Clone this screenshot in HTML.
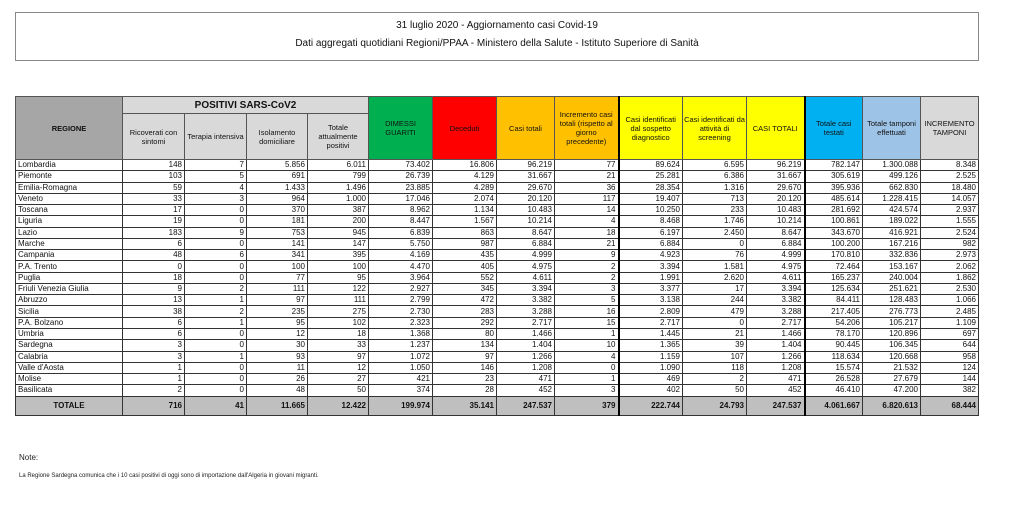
<!DOCTYPE html>
<html><head><meta charset="utf-8"><style>
body{margin:0;width:1024px;height:513px;background:#fff;font-family:"Liberation Sans",sans-serif;position:relative;overflow:hidden}
.tb{position:absolute;left:15px;top:12px;width:962px;height:47px;border:1px solid #888;text-align:center;font-size:10px;color:#111}
table{position:absolute;left:15px;top:96px;border-collapse:collapse;table-layout:fixed;font-size:8px;color:#111}
td{border:1px solid #333;padding:0 2px;height:10.27px;line-height:10px;text-align:right;white-space:nowrap;overflow:hidden}
td.l{text-align:left}
th{border:1px solid #555;font-weight:normal;font-size:7.5px;line-height:9px;text-align:center;padding:0}
.g{background:#a6a6a6}.lg{background:#d9d9d9}.gr{background:#00b050}.rd{background:#ff0000}.or{background:#ffc000}.ye{background:#ffff00}.bl{background:#00b0f0}.lb{background:#9dc3e6}
.tk{border-left:2px solid #000}
tr.tot td{height:18px;font-weight:bold;background:#bfbfbf}
</style></head><body>
<div class="tb"><div style="position:absolute;top:7px;width:100%">31 luglio 2020 - Aggiornamento casi Covid-19</div><div style="position:absolute;top:25px;width:100%">Dati aggregati quotidiani Regioni/PPAA - Ministero della Salute - Istituto Superiore di Sanità</div></div>
<table>
<colgroup><col style="width:107px"><col style="width:62px"><col style="width:62px"><col style="width:61px"><col style="width:61px"><col style="width:64px"><col style="width:64px"><col style="width:58px"><col style="width:64px"><col style="width:64px"><col style="width:64px"><col style="width:58px"><col style="width:58px"><col style="width:58px"><col style="width:58px"></colgroup>
<tr style="height:17px"><th rowspan="2" class="g" style="font-weight:bold">REGIONE</th><th colspan="4" class="lg" style="font-weight:bold;font-size:10px">POSITIVI SARS-CoV2</th><th rowspan="2" class="gr">DIMESSI<br>GUARITI</th><th rowspan="2" class="rd">Deceduti</th><th rowspan="2" class="or">Casi totali</th><th rowspan="2" class="or">Incremento casi totali (rispetto al giorno precedente)</th><th rowspan="2" class="ye tk">Casi identificati dal sospetto diagnostico</th><th rowspan="2" class="ye">Casi identificati da attività di screening</th><th rowspan="2" class="ye">CASI TOTALI</th><th rowspan="2" class="bl tk">Totale casi testati</th><th rowspan="2" class="lb">Totale tamponi effettuati</th><th rowspan="2" class="lg">INCREMENTO TAMPONI</th></tr>
<tr style="height:46px"><th class="lg">Ricoverati con sintomi</th><th class="lg">Terapia intensiva</th><th class="lg">Isolamento domiciliare</th><th class="lg">Totale attualmente positivi</th></tr>
<tr><td class="l">Lombardia</td><td>148</td><td>7</td><td>5.856</td><td>6.011</td><td>73.402</td><td>16.806</td><td>96.219</td><td>77</td><td class="tk">89.624</td><td>6.595</td><td>96.219</td><td class="tk">782.147</td><td>1.300.088</td><td>8.348</td></tr>
<tr><td class="l">Piemonte</td><td>103</td><td>5</td><td>691</td><td>799</td><td>26.739</td><td>4.129</td><td>31.667</td><td>21</td><td class="tk">25.281</td><td>6.386</td><td>31.667</td><td class="tk">305.619</td><td>499.126</td><td>2.525</td></tr>
<tr><td class="l">Emilia-Romagna</td><td>59</td><td>4</td><td>1.433</td><td>1.496</td><td>23.885</td><td>4.289</td><td>29.670</td><td>36</td><td class="tk">28.354</td><td>1.316</td><td>29.670</td><td class="tk">395.936</td><td>662.830</td><td>18.480</td></tr>
<tr><td class="l">Veneto</td><td>33</td><td>3</td><td>964</td><td>1.000</td><td>17.046</td><td>2.074</td><td>20.120</td><td>117</td><td class="tk">19.407</td><td>713</td><td>20.120</td><td class="tk">485.614</td><td>1.228.415</td><td>14.057</td></tr>
<tr><td class="l">Toscana</td><td>17</td><td>0</td><td>370</td><td>387</td><td>8.962</td><td>1.134</td><td>10.483</td><td>14</td><td class="tk">10.250</td><td>233</td><td>10.483</td><td class="tk">281.692</td><td>424.574</td><td>2.937</td></tr>
<tr><td class="l">Liguria</td><td>19</td><td>0</td><td>181</td><td>200</td><td>8.447</td><td>1.567</td><td>10.214</td><td>4</td><td class="tk">8.468</td><td>1.746</td><td>10.214</td><td class="tk">100.861</td><td>189.022</td><td>1.555</td></tr>
<tr><td class="l">Lazio</td><td>183</td><td>9</td><td>753</td><td>945</td><td>6.839</td><td>863</td><td>8.647</td><td>18</td><td class="tk">6.197</td><td>2.450</td><td>8.647</td><td class="tk">343.670</td><td>416.921</td><td>2.524</td></tr>
<tr><td class="l">Marche</td><td>6</td><td>0</td><td>141</td><td>147</td><td>5.750</td><td>987</td><td>6.884</td><td>21</td><td class="tk">6.884</td><td>0</td><td>6.884</td><td class="tk">100.200</td><td>167.216</td><td>982</td></tr>
<tr><td class="l">Campania</td><td>48</td><td>6</td><td>341</td><td>395</td><td>4.169</td><td>435</td><td>4.999</td><td>9</td><td class="tk">4.923</td><td>76</td><td>4.999</td><td class="tk">170.810</td><td>332.836</td><td>2.973</td></tr>
<tr><td class="l">P.A. Trento</td><td>0</td><td>0</td><td>100</td><td>100</td><td>4.470</td><td>405</td><td>4.975</td><td>2</td><td class="tk">3.394</td><td>1.581</td><td>4.975</td><td class="tk">72.464</td><td>153.167</td><td>2.062</td></tr>
<tr><td class="l">Puglia</td><td>18</td><td>0</td><td>77</td><td>95</td><td>3.964</td><td>552</td><td>4.611</td><td>2</td><td class="tk">1.991</td><td>2.620</td><td>4.611</td><td class="tk">165.237</td><td>240.004</td><td>1.862</td></tr>
<tr><td class="l">Friuli Venezia Giulia</td><td>9</td><td>2</td><td>111</td><td>122</td><td>2.927</td><td>345</td><td>3.394</td><td>3</td><td class="tk">3.377</td><td>17</td><td>3.394</td><td class="tk">125.634</td><td>251.621</td><td>2.530</td></tr>
<tr><td class="l">Abruzzo</td><td>13</td><td>1</td><td>97</td><td>111</td><td>2.799</td><td>472</td><td>3.382</td><td>5</td><td class="tk">3.138</td><td>244</td><td>3.382</td><td class="tk">84.411</td><td>128.483</td><td>1.066</td></tr>
<tr><td class="l">Sicilia</td><td>38</td><td>2</td><td>235</td><td>275</td><td>2.730</td><td>283</td><td>3.288</td><td>16</td><td class="tk">2.809</td><td>479</td><td>3.288</td><td class="tk">217.405</td><td>276.773</td><td>2.485</td></tr>
<tr><td class="l">P.A. Bolzano</td><td>6</td><td>1</td><td>95</td><td>102</td><td>2.323</td><td>292</td><td>2.717</td><td>15</td><td class="tk">2.717</td><td>0</td><td>2.717</td><td class="tk">54.206</td><td>105.217</td><td>1.109</td></tr>
<tr><td class="l">Umbria</td><td>6</td><td>0</td><td>12</td><td>18</td><td>1.368</td><td>80</td><td>1.466</td><td>1</td><td class="tk">1.445</td><td>21</td><td>1.466</td><td class="tk">78.170</td><td>120.896</td><td>697</td></tr>
<tr><td class="l">Sardegna</td><td>3</td><td>0</td><td>30</td><td>33</td><td>1.237</td><td>134</td><td>1.404</td><td>10</td><td class="tk">1.365</td><td>39</td><td>1.404</td><td class="tk">90.445</td><td>106.345</td><td>644</td></tr>
<tr><td class="l">Calabria</td><td>3</td><td>1</td><td>93</td><td>97</td><td>1.072</td><td>97</td><td>1.266</td><td>4</td><td class="tk">1.159</td><td>107</td><td>1.266</td><td class="tk">118.634</td><td>120.668</td><td>958</td></tr>
<tr><td class="l">Valle d'Aosta</td><td>1</td><td>0</td><td>11</td><td>12</td><td>1.050</td><td>146</td><td>1.208</td><td>0</td><td class="tk">1.090</td><td>118</td><td>1.208</td><td class="tk">15.574</td><td>21.532</td><td>124</td></tr>
<tr><td class="l">Molise</td><td>1</td><td>0</td><td>26</td><td>27</td><td>421</td><td>23</td><td>471</td><td>1</td><td class="tk">469</td><td>2</td><td>471</td><td class="tk">26.528</td><td>27.679</td><td>144</td></tr>
<tr><td class="l">Basilicata</td><td>2</td><td>0</td><td>48</td><td>50</td><td>374</td><td>28</td><td>452</td><td>3</td><td class="tk">402</td><td>50</td><td>452</td><td class="tk">46.410</td><td>47.200</td><td>382</td></tr>
<tr class="tot"><td class="g" style="text-align:center">TOTALE</td><td>716</td><td>41</td><td>11.665</td><td>12.422</td><td class="gr">199.974</td><td class="rd">35.141</td><td class="or">247.537</td><td class="or">379</td><td class="ye tk">222.744</td><td class="ye">24.793</td><td class="ye">247.537</td><td class="bl tk">4.061.667</td><td class="lb">6.820.613</td><td>68.444</td></tr>
</table>
<div style="position:absolute;left:19px;top:453px;font-size:8px;color:#222">Note:</div>
<div style="position:absolute;left:19px;top:473px;font-size:6px;color:#222">La Regione Sardegna comunica che i 10 casi positivi di oggi sono di importazione dall'Algeria in giovani migranti.</div>
</body></html>
